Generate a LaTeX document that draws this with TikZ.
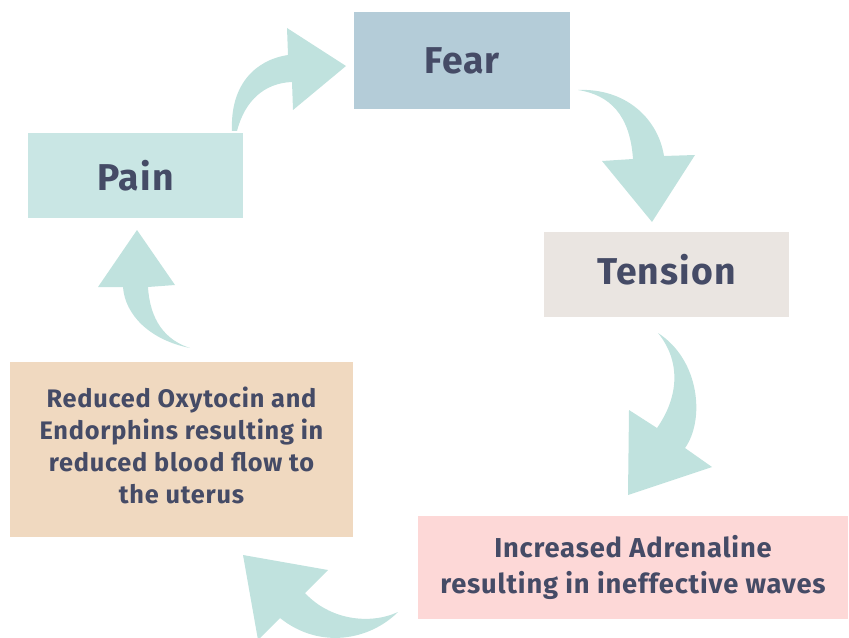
\documentclass[tikz,border=0pt]{standalone}
\usepackage{fontspec}
\setmainfont{Fira Sans}[LetterSpace=3]
\usetikzlibrary{positioning}
\definecolor{Ink}{HTML}{454B66}
\definecolor{FearBlue}{HTML}{B4CCD8}
\definecolor{PainTeal}{HTML}{C9E6E4}
\definecolor{TensionGrey}{HTML}{EAE5E1}
\definecolor{OxyPeach}{HTML}{F0D9C0}
\definecolor{AdrPink}{HTML}{FDD8D7}
\definecolor{Flow}{HTML}{C0E2DE}
\tikzset{
  stage/.style={rectangle,inner sep=0pt,text=Ink,align=center},
  bigword/.style={font=\bfseries\fontsize{28}{34}\selectfont},
  smallword/.style={font=\bfseries\fontsize{19}{24}\selectfont},
  midword/.style={font=\bfseries\fontsize{20.5}{27}\selectfont},
  flow/.style={fill=Flow}
}
\begin{document}
\begin{tikzpicture}[x=0.75pt,y=-0.75pt]
\useasboundingbox (0,0) rectangle (849,638);
% stages of the cycle
\node[stage,bigword,fill=FearBlue,minimum width=162pt,minimum height=72.75pt] (fear) at (462,60.5) {Fear};
\node[stage,bigword,fill=TensionGrey,minimum width=183.75pt,minimum height=63.75pt,text depth=7pt] (tension) at (666.5,274.5) {Tension};
\node[stage,midword,fill=AdrPink,minimum width=322.5pt,minimum height=77.25pt] (adrenaline) at (633,567.5) {Increased Adrenaline\\resulting in ineffective waves};
\node[stage,smallword,fill=OxyPeach,minimum width=257.25pt,minimum height=131.25pt,text depth=7pt] (oxytocin) at (181.5,449.5) {Reduced Oxytocin and\\Endorphins resulting in\\reduced blood flow to\\the uterus};
\node[stage,bigword,fill=PainTeal,minimum width=161.25pt,minimum height=63.75pt] (pain) at (135.5,175.5) {Pain};
% curved block arrows
\fill[flow] (232,131) .. controls (230,85) and (255,60) .. (288,55) -- (287,28) -- (346,66)
  -- (293,110) -- (292,82) .. controls (265,83) and (245,100) .. (237,131) -- cycle;
\fill[flow] (578,90) .. controls (625,88) and (658,118) .. (664,156) -- (695,155) -- (652,222)
  -- (602,161) -- (633,159) .. controls (630,115) and (610,95) .. (578,90) -- cycle;
\fill[flow] (658,333) .. controls (700,360) and (705,420) .. (685,448) -- (712,467) -- (628,495)
  -- (629,410) -- (657,428) .. controls (680,395) and (680,360) .. (658,333) -- cycle;
\fill[flow] (398,612) .. controls (370,625) and (330,620) .. (305,593) -- (328,570) -- (243,555)
  -- (258,640) -- (280,618) .. controls (320,650) and (370,640) .. (398,612) -- cycle;
\fill[flow] (137,230) -- (175,285) -- (148,287) .. controls (150,320) and (165,340) .. (190,348)
  .. controls (150,340) and (125,315) .. (123,287) -- (98,287) -- cycle;
\end{tikzpicture}
\end{document}
